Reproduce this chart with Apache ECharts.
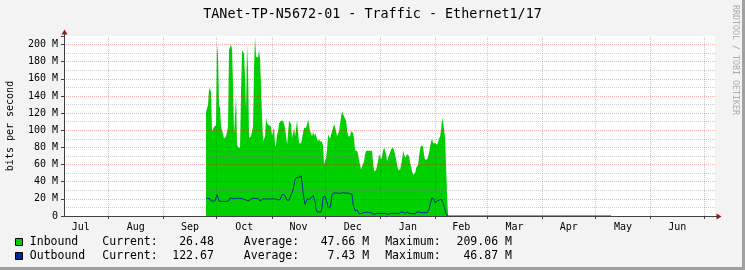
<!DOCTYPE html>
<html><head><meta charset="utf-8">
<script src="https://cdn.jsdelivr.net/npm/echarts@6/dist/echarts.min.js"></script>
<style>html,body{margin:0;padding:0;background:#f3f3f3}#c{width:745px;height:270px}</style>
</head><body><div id="c"></div><script>
const TITLE = 'TANet-TP-N5672-01 - Traffic - Ethernet1/17';
const Y_TITLE = 'bits per second';
const WATERMARK = 'RRDTOOL / TOBI OETIKER';
const X_MIN = '2023-07-07T03:00:00';
const X_MAX = '2024-07-07T05:00:00';
const MONTH_STARTS = ['2023-08-01','2023-09-01','2023-10-01','2023-11-01','2023-12-01','2024-01-01','2024-02-01','2024-03-01','2024-04-01','2024-05-01','2024-06-01','2024-07-01'];
const MONTH_LABELS = ['Jul','Aug','Sep','Oct','Nov','Dec','Jan','Feb','Mar','Apr','May','Jun'];
const MONTH_LABEL_DATES = ['2023-07-16T12:00:00','2023-08-16T12:00:00','2023-09-16T00:00:00','2023-10-16T12:00:00','2023-11-16T00:00:00','2023-12-16T12:00:00','2024-01-16T12:00:00','2024-02-15T12:00:00','2024-03-16T12:00:00','2024-04-16T00:00:00','2024-05-16T12:00:00','2024-06-16T00:00:00'];
const Y_MAX = 210;
const Y_MAJOR_STEP = 20;
const Y_MINOR_TICKS = [10,30,50,70,90,110,130,150,170,190];
// samples, one per graph column (13.5 h), starting here
const SAMPLE_START = '2023-09-25T00:00:00';
const SAMPLE_STEP_HOURS = 13.5;
// Inbound, Mbit/s
const INBOUND = [
121,121,130,149,148,145,99,100,104,106,
106,200,187,130,125,104,103,95,90,90,
93,95,104,194,196,200,194,151,95,95,
140,83,80,80,80,144,193,193,190,161,
124,200,171,91,91,93,95,104,175,209,
186,185,185,194,183,149,116,87,90,93,
115,108,106,106,106,104,93,91,104,81,
84,95,99,108,107,111,111,111,113,103,
93,83,85,111,113,107,91,93,103,93,
93,111,113,85,83,85,85,97,103,103,
103,107,113,111,99,97,93,99,93,97,
99,90,87,90,87,87,87,81,60,62,
68,78,95,93,90,95,99,101,107,104,
104,93,91,99,101,116,122,120,116,116,
111,101,93,95,93,99,100,97,90,76,
74,76,72,64,60,54,58,60,64,72,
76,78,76,76,76,76,76,62,52,52,
54,56,64,72,70,66,70,76,80,78,
72,64,68,70,74,78,80,80,78,72,
66,60,54,52,54,56,66,76,74,68,
68,72,74,70,62,58,52,48,50,50,
56,58,60,70,78,82,83,81,70,66,
66,66,68,74,81,87,90,85,85,85,
85,83,85,90,93,101,115,116,101,91,
90,23,0];
// Outbound, Mbit/s
const OUTBOUND = [
21,21,20.5,20,20,17.5,17.5,17.5,17.5,17.5,
19,25,25,17.5,17,17,17,17,17,17,
17,17,17,18,21,20.5,20.5,20.5,20.5,20.5,
20.5,19,21,19.5,20.5,20.5,20.5,19.5,19,19,
19,17.5,17.5,17.5,19,20.5,20.5,20.5,20.5,20.5,
20.5,20.5,20.5,20.5,17.5,17.5,19,20.5,20.5,20.5,
19.5,20,20,20,20,20,20,20,20,19.5,
19.5,19,19,19,19,19.5,25,25,25,25,
21,18.5,18.5,18.5,22,23.5,27,31,37,43,
45,45,45,45,46.5,46.8,39,27,19.5,13.6,
15.5,19.5,19.5,19.5,19.5,21,23,24,23,17,
7.8,4.7,4.7,4.7,4.7,4.7,10,22,23,23,
23,15.5,9.7,9.7,9.7,15.5,25,27,27,27,
27,27,26.5,26.5,26.5,27,27,27,27,27,
26.5,27,27,27,26,25,25,13,10,5.8,
7.8,7,4.7,2.7,2.7,2.7,3.9,3.9,3.9,3.9,
4.7,4.7,4.7,3.9,4.7,3.9,3,2.3,2.3,2.3,
2.3,3,3,3,3,3,3,3,3,3,
3,2.3,2.3,2.3,3,3,3,3,3,3,
3,3,3,3,3,4.7,4.7,4.7,3,3,
3,4.7,4.7,3,3,3,3.9,2.7,2.7,2.7,
3.9,4.7,4.7,4.7,3.9,3.9,3.9,3.9,3.9,3.9,
3.9,3.9,3.9,7.8,13.6,17.5,21.4,21.4,18.5,15.5,
15.5,17.5,18.5,18.5,18.5,19.5,20.5,15.5,11.6,11,
1.9,0,0,
0,0,0,0,0,0,0,0,0,0,0,0,0,0,0,0,0,0,0,0,
0,0,0,0,0,0,0,0,0,0,0,0,0,0,0,0,0,0,0,0,
0,0,0,0,0,0,0,0,0,0,0,0,0,0,0,0,0,0,0,0,
0,0,0,0,0,0,0,0,0,0,0,0,0,0,0,0,0,0,0,0,
0,0,0,0,0,0,0,0,0,0,0,0,0,0,0,0,0,0,0,0,
0,0,0,0,0,0,0,0,0,0,0,0,0,0,0,0,0,0,0,0,
0,0,0,0,0,0,0,0,0,0,0,0,0,0,0,0,0,0,0,0,
0,0,0,0,0,0,0,0,0,0,0,0,0,0,0,0,0,0,0,0,
0,0,0];
const LEGEND_NAMES = ['Inbound','Outbound'];
const LEGEND_COLORS = ['#00CF00','#002A97'];
const LEGEND_CURRENT = ['26.48','122.67'];
const LEGEND_AVERAGE = ['47.66 M','7.43 M'];
const LEGEND_MAXIMUM = ['209.06 M','46.87 M'];

const MONO = '"DejaVu Sans Mono", monospace';
const ts = s => new Date(s).getTime();
const t0 = ts(SAMPLE_START), stepMs = SAMPLE_STEP_HOURS * 3600e3;
const toPairs = arr => arr.map((v, i) => [t0 + i * stepMs, v]);
const labelTimes = MONTH_LABEL_DATES.map(ts);
const MGRID = 'rgba(229,0,0,0.30)';
const GRID = 'rgba(130,130,130,0.38)';

const graphic = [
  {type:'rect', silent:true, shape:{x:0,y:267,width:745,height:3}, style:{fill:'#a0a0a0'}},
  {type:'rect', silent:true, shape:{x:742,y:0,width:3,height:270}, style:{fill:'#a0a0a0'}},
  {type:'text', silent:true, x:372.5, y:15, style:{text:TITLE, fontFamily:MONO, fontSize:13.4, fill:'#000', align:'center', verticalAlign:'middle'}},
  {type:'text', silent:true, x:10.5, y:126, rotation:Math.PI/2, style:{text:Y_TITLE, fontFamily:MONO, fontSize:10, fill:'#000', align:'center', verticalAlign:'middle'}},
  {type:'text', silent:true, x:735.5, y:60, rotation:-Math.PI/2, style:{text:WATERMARK, fontFamily:MONO, fontSize:8.3, fill:'#ababab', align:'center', verticalAlign:'middle'}},
  {type:'line', silent:true, shape:{x1:64.5,y1:36,x2:64.5,y2:33}, style:{stroke:'#404040',lineWidth:1}},
  {type:'polygon', silent:true, shape:{points:[[61.5,34.5],[67.5,34.5],[64.5,29.5]]}, style:{fill:'#8b1c1c'}},
  {type:'line', silent:true, shape:{x1:715,y1:216.5,x2:718,y2:216.5}, style:{stroke:'#404040',lineWidth:1}},
  {type:'polygon', silent:true, shape:{points:[[716.5,213.5],[716.5,219.5],[721.5,216.5]]}, style:{fill:'#8b1c1c'}}
];
const rowY = [242, 256];
LEGEND_NAMES.forEach((n, i) => {
  const y = rowY[i];
  const tx = (x, text, align) => ({type:'text', silent:true, x, y, style:{text, fontFamily:MONO, fontSize:11.5, fill:'#000', align, verticalAlign:'middle'}});
  graphic.push({type:'rect', silent:true, shape:{x:15.5,y:y-3.5,width:7,height:7}, style:{fill:LEGEND_COLORS[i], stroke:'#000', lineWidth:1}});
  graphic.push(tx(29.8, n, 'left'));
  graphic.push(tx(102.3, 'Current:', 'left'));
  graphic.push(tx(213.8, LEGEND_CURRENT[i], 'right'));
  graphic.push(tx(243.8, 'Average:', 'left'));
  graphic.push(tx(369.1, LEGEND_AVERAGE[i], 'right'));
  graphic.push(tx(385.2, 'Maximum:', 'left'));
  graphic.push(tx(511.9, LEGEND_MAXIMUM[i], 'right'));
});

const gridLines = [
  ...MONTH_STARTS.map(d => ({xAxis: ts(d), lineStyle:{color:MGRID, width:1, type:[1,1]}})),
  ...Y_MINOR_TICKS.map(v => ({yAxis: v, lineStyle:{color:GRID, width:1, type:[1,1]}}))
];

const chart = echarts.init(document.getElementById('c'), null, {renderer:'canvas'});
chart.setOption({
  animation:false,
  backgroundColor:'#f3f3f3',
  grid:{left:64, right:30, top:36, bottom:54, show:true, backgroundColor:'#ffffff', borderWidth:0},
  xAxis:{
    type:'value', min:ts(X_MIN), max:ts(X_MAX), z:5,
    axisLine:{show:true, lineStyle:{color:'#404040', width:1}},
    axisTick:{show:true, customValues:MONTH_STARTS.map(ts), length:3, lineStyle:{color:'#404040'}},
    axisLabel:{show:true, customValues:labelTimes, margin:6, fontFamily:MONO, fontSize:10, color:'#000',
      formatter:v => { const k = labelTimes.indexOf(v); return k >= 0 ? MONTH_LABELS[k] : ''; }},
    splitLine:{show:false}
  },
  yAxis:[
    {type:'value', min:0, max:Y_MAX, interval:Y_MAJOR_STEP, position:'left', z:6,
     axisLine:{show:true, lineStyle:{color:'#404040', width:1}},
     axisTick:{show:true, length:3, lineStyle:{color:'#404040'}},
     axisLabel:{show:true, margin:6, fontFamily:MONO, fontSize:10, color:'#000',
       formatter:v => v > 200 ? '' : (v === 0 ? '0' : v + ' M')},
     splitLine:{show:true, showMinLine:false, showMaxLine:false, lineStyle:{color:MGRID, width:1, type:[1,1]}}}
  ],
  series:[
    {name:'Inbound', type:'line', data:toPairs(INBOUND), showSymbol:false, symbol:'none',
     lineStyle:{width:0}, areaStyle:{color:'#00CF00', opacity:1}, itemStyle:{color:'#00CF00'}, z:2, silent:true},
    {name:'Outbound', type:'line', data:toPairs(OUTBOUND), showSymbol:false, symbol:'none',
     lineStyle:{width:1, color:'#002A97'}, itemStyle:{color:'#002A97'}, z:3, silent:true},
    {name:'grid', type:'line', data:[], z:4, silent:true,
     markLine:{silent:true, symbol:'none', animation:false, label:{show:false}, emphasis:{disabled:true}, data:gridLines}}
  ],
  graphic
});
</script></body></html>
